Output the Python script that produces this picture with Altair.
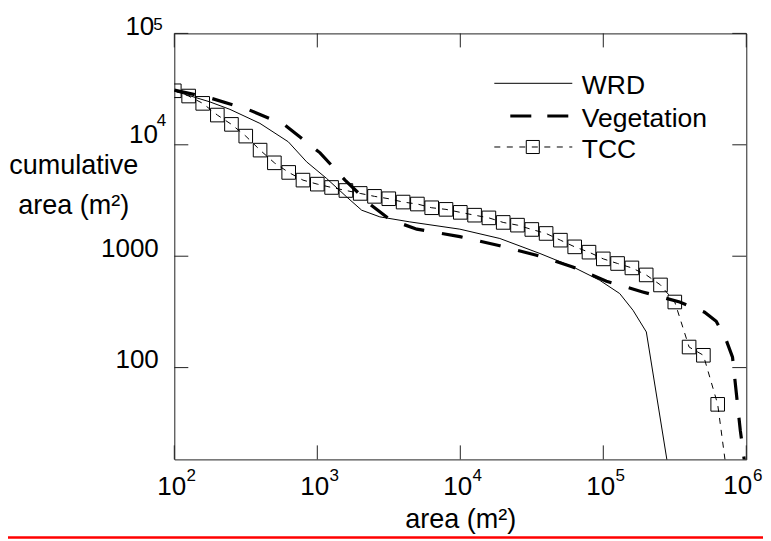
import altair as alt
import pandas as pd

W, H = 572, 426
FONT = "Liberation Sans"
INK = "#222222"

# ---------------- data ----------------
tcc_x = [100, 126, 158, 200, 251, 316, 398, 501, 631, 794,
         1000, 1259, 1585, 1995, 2512, 3162, 3981, 5012, 6310, 7943,
         10000, 12589, 15849, 19953, 25119, 31623, 39811, 50119, 63096, 79433,
         100000, 125893, 158489, 199526, 251189, 316228, 398107, 501187, 630957, 794328]
tcc_y = [30550, 27400, 23550, 18490, 15250, 11970, 8960, 6890, 5650, 4820,
         4435, 4140, 3890, 3660, 3445, 3280, 3062, 2940, 2722, 2633,
         2475, 2335, 2208, 2010, 1900, 1738, 1600, 1393, 1213, 1087,
         946, 860, 785, 679, 552, 388, 153, 129, 46.8, 5]

wrd_x = [100, 177, 245, 397, 627, 842, 1161, 1603, 2042, 2737, 4436, 9930,
         18900, 36100, 61400, 94400, 130300, 161400, 200000, 286400]
wrd_y = [30400, 24300, 20800, 15570, 10640, 7030, 4990, 3410, 2590, 2255, 2033, 1749,
         1442, 1057, 801, 608, 462, 327, 209, 11.9]

veg_x = [100, 182, 327, 594, 1045, 1563, 2339, 3228, 4966, 9930, 18900, 34100,
         61100, 105200, 188400, 342000, 511000, 616000, 716000, 801000, 908000, 980000]
veg_y = [31000, 26100, 20800, 15030, 8470, 4820, 2930, 2128, 1749, 1497, 1242, 1021,
         801, 596, 478, 388, 314, 261, 183, 124, 27.3, 13.2]

x_ticks = [100, 1000, 10000, 100000, 1000000]
x_lab_ticks = [100, 1000, 10000, 100000]
x_exps = ["2", "3", "4", "5"]
x_last = 1000000
x_last_exp = "6"
y_ticks = [100, 1000, 10000, 100000]
y_base = "10"
y_exp_4 = "4"
y_exp_5 = "5"

legend_names = ["WRD", "Vegetation", "TCC"]

# ---------------- frames ----------------
wrd = pd.DataFrame({"x": wrd_x, "y": wrd_y})
veg = pd.DataFrame({"x": veg_x, "y": veg_y})
tcc = pd.DataFrame({"x": tcc_x, "y": tcc_y})
xt = pd.DataFrame({"x": x_ticks})
xe = pd.DataFrame({"x": x_lab_ticks, "e": x_exps})
xl = pd.DataFrame({"x": [x_last], "b": [y_base], "e": [x_last_exp]})
yt = pd.DataFrame({"y": y_ticks})
ye4 = pd.DataFrame({"y": [10000], "b": [y_base], "e": [y_exp_4]})
ye5 = pd.DataFrame({"y": [100000], "b": [y_base], "e": [y_exp_5]})
one = pd.DataFrame({"k": [0]})

xscale = alt.Scale(type="log", domain=[100, 1000000], nice=False)
yscale = alt.Scale(type="log", domain=[15, 100000], nice=False)

xaxis = alt.Axis(values=x_ticks, labelExpr="datum.value >= 1000000 ? '' : '10'",
                 ticks=False, tickSize=0, domain=False,
                 grid=False, labelFont=FONT, labelFontSize=26, labelColor="black",
                 labelBaseline="alphabetic", labelPadding=35, labelOffset=-3,
                 labelFlush=False, labelOverlap=False,
                 title="area (m²)", titleFont=FONT, titleFontSize=27,
                 titleFontWeight="normal", titleColor="black",
                 titleBaseline="alphabetic", titleY=68)
yaxis = alt.Axis(values=y_ticks,
                 labelExpr="datum.value >= 10000 ? '' : (datum.value >= 1000 ? '1000' : '100')",
                 ticks=False, tickSize=0, domain=False, grid=False, labelFont=FONT,
                 labelFontSize=26, labelColor="black", labelBaseline="alphabetic",
                 labelPadding=16, labelFlush=False, labelOverlap=False,
                 title=["cumulative", "area (m²)"], titleFont=FONT, titleFontSize=27,
                 titleFontWeight="normal", titleColor="black", titleAngle=0,
                 titleAlign="center", titleBaseline="alphabetic", titleX=-101,
                 titleY=140.6, titleLineHeight=40)


def X():
    return alt.X("x:Q", scale=xscale, axis=xaxis)


def Y():
    return alt.Y("y:Q", scale=yscale, axis=yaxis)


wrd_line = alt.Chart(wrd).mark_line(color="black", strokeWidth=1, clip=True).encode(x=X(), y=Y())
veg_line = alt.Chart(veg).mark_line(color="black", strokeWidth=3.2, strokeDash=[21, 18],
                                    clip=True).encode(x=X(), y=Y())
tcc_line = alt.Chart(tcc).mark_line(color="black", strokeWidth=1, strokeDash=[6, 6],
                                    clip=True).encode(x=X(), y=Y())
tcc_pts = alt.Chart(tcc).mark_point(shape="square", size=185, filled=False, color="black",
                                    strokeWidth=1, opacity=1, clip=True).encode(x=X(), y=Y())

# inward ticks on all four sides
tb = alt.Chart(xt).mark_rule(color=INK, strokeWidth=1).encode(
    x=X(), y=alt.value(H), y2=alt.value(H - 14))
tt = alt.Chart(xt).mark_rule(color=INK, strokeWidth=1).encode(
    x=X(), y=alt.value(0), y2=alt.value(14))
tl = alt.Chart(yt).mark_rule(color=INK, strokeWidth=1).encode(
    y=Y(), x=alt.value(0), x2=alt.value(14))
tr = alt.Chart(yt).mark_rule(color=INK, strokeWidth=1).encode(
    y=Y(), x=alt.value(W), x2=alt.value(W - 14))

# power-of-ten tick labels with exponents
xexp = alt.Chart(xe).mark_text(font=FONT, fontSize=17, align="left", baseline="alphabetic",
                               dx=12.3, color="black").encode(
    x=X(), y=alt.value(H + 22), text="e:N")
xlast_b = alt.Chart(xl).mark_text(font=FONT, fontSize=26, align="center", baseline="alphabetic",
                                  dx=-8.5, color="black").encode(
    x=X(), y=alt.value(H + 35), text="b:N")
xlast_e = alt.Chart(xl).mark_text(font=FONT, fontSize=17, align="left", baseline="alphabetic",
                                  dx=6.6, color="black").encode(
    x=X(), y=alt.value(H + 22), text="e:N")


def ylab(df, bx, bdy, ex, edy):
    base = alt.Chart(df).mark_text(font=FONT, fontSize=26, align="right",
                                   baseline="alphabetic", dy=bdy, color="black").encode(
        y=Y(), x=alt.value(bx), text="b:N")
    exp = alt.Chart(df).mark_text(font=FONT, fontSize=17, align="left",
                                  baseline="alphabetic", dy=edy, color="black").encode(
        y=Y(), x=alt.value(ex), text="e:N")
    return [base, exp]


ylabs = ylab(ye4, -16.3, -1.7, -17.5, -19) + ylab(ye5, -20, 1.5, -21, -3.5)

# legend
leg_text_y = [60.6, 93.3, 124.9]
lg = []
lg.append(alt.Chart(one).mark_rule(color="black", strokeWidth=1).encode(
    x=alt.value(320), x2=alt.value(398), y=alt.value(49.9)))
lg.append(alt.Chart(one).mark_rule(color="black", strokeWidth=3.2, strokeDash=[21, 16]).encode(
    x=alt.value(336), x2=alt.value(396), y=alt.value(82.6)))
lg.append(alt.Chart(one).mark_rule(color="black", strokeWidth=1, strokeDash=[6, 6.5]).encode(
    x=alt.value(320), x2=alt.value(398), y=alt.value(113.6)))
lg.append(alt.Chart(one).mark_point(shape="square", size=170, filled=False, color="black",
                                    strokeWidth=1, opacity=1).encode(
    x=alt.value(358.5), y=alt.value(113.6)))
for name, ty in zip(legend_names, leg_text_y):
    lg.append(alt.Chart(one).mark_text(text=name, font=FONT, fontSize=26.5, align="left",
                                       baseline="alphabetic", color="black").encode(
        x=alt.value(407.5), y=alt.value(ty)))

red = alt.Chart(one).mark_rule(color="#ff0000", strokeWidth=2.5).encode(
    x=alt.value(-166.3), x2=alt.value(596.7), y=alt.value(504.2))

chart = alt.layer(wrd_line, veg_line, tcc_line, tcc_pts, tb, tt, tl, tr, xexp, xlast_b, xlast_e,
                  *ylabs, *lg, red).properties(
    width=W, height=H,
    autosize=alt.AutoSizeParams(type="none"),
    padding={"left": 166.3, "top": 25.4, "right": 16.7, "bottom": 80},
).configure_view(stroke=INK, strokeWidth=1)

chart.save("out.html", embed_options={"renderer": "svg", "actions": False})
